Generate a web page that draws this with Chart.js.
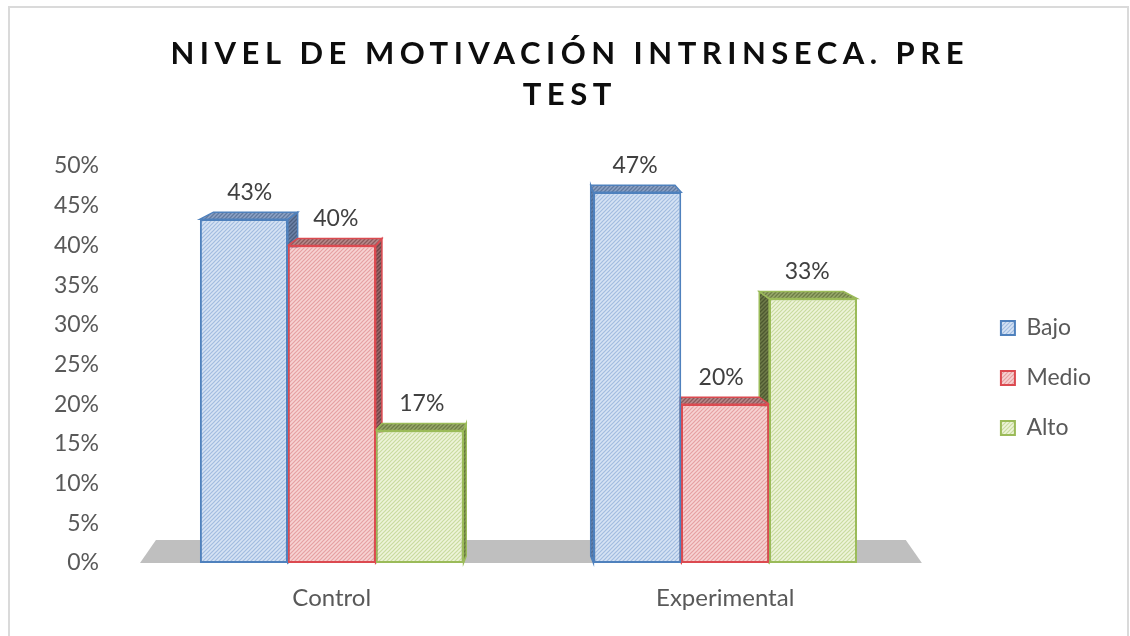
<!DOCTYPE html>
<html><head><meta charset="utf-8">
<script src="https://cdn.jsdelivr.net/npm/chart.js@4"></script>
<style>
html,body{margin:0;padding:0;background:#fff;}
#wrap{position:relative;width:1130px;height:636px;overflow:hidden;background:#fff;}
#frame{position:absolute;left:8px;top:6px;width:1121px;height:640px;border:2px solid #dadada;box-sizing:border-box;pointer-events:none;}
canvas{position:absolute;left:0;top:0;}
</style></head><body>
<div id="wrap"><canvas id="c" width="1130" height="636"></canvas><div id="frame"></div></div>
<script>
// ---- data ----
const titleLines = ['NIVEL DE MOTIVACIÓN INTRINSECA. PRE', 'TEST'];
const categories = ['Control', 'Experimental'];
const seriesNames = ['Bajo', 'Medio', 'Alto'];
const bajo = [43.3, 46.7];
const medio = [40.0, 20.0];
const alto = [16.7, 33.3];
const yTickValues = [0, 5, 10, 15, 20, 25, 30, 35, 40, 45, 50];

// ---- styles ----
const canvas = document.getElementById('c');
const ctx = canvas.getContext('2d');
function hatch(bg, line, size, lw) {
  const t = document.createElement('canvas');
  t.width = t.height = size;
  const x = t.getContext('2d');
  x.fillStyle = bg; x.fillRect(0, 0, size, size);
  x.strokeStyle = line; x.lineWidth = lw; x.beginPath();
  x.moveTo(-1, size + 1); x.lineTo(size + 1, -1);
  x.moveTo(-1, 1); x.lineTo(1, -1);
  x.moveTo(size - 1, size + 1); x.lineTo(size + 1, size - 1);
  x.stroke();
  return ctx.createPattern(t, 'repeat');
}
const borderColors = ['#4f81bd', '#dc4a50', '#9bbb59'];
const frontFills = [hatch('#d6e3f4', '#a2bce0', 4, 1.2), hatch('#f7d3d3', '#e6a0a2', 4, 1.2), hatch('#eef4da', '#c9db9f', 4, 1.2)];
const topFills = [hatch('#8ea3c6', '#60799f', 4, 1.3), hatch('#b88a8c', '#8a5a5c', 4, 1.3), hatch('#98a86c', '#6e7d45', 4, 1.3)];
const sideFills = [hatch('#6d83a8', '#4b5f80', 4, 1.3), hatch('#9a6a6c', '#6f4446', 4, 1.3), hatch('#6f7c4a', '#4d5830', 4, 1.3)];
const seriesData = [bajo, medio, alto];

const K = 0.041, DY = -7, FLOOR_DY = -23;
const TITLE_SPACING = 5.5, TITLE_CENTER = 567;

const spacedTitle = {
  id: 'spacedTitle',
  beforeDraw(chart) {
    const tb = chart.titleBlock;
    if (tb && !tb._spaced) {
      const orig = tb.draw.bind(tb);
      tb.draw = function () {
        const c = chart.ctx;
        c.save();
        c.letterSpacing = TITLE_SPACING + 'px';
        c.translate(TITLE_CENTER - (tb.left + tb.right) / 2 + TITLE_SPACING / 2, 0);
        orig();
        c.restore();
      };
      tb._spaced = true;
    }
  }
};

function poly(c, pts, fill, stroke) {
  c.beginPath();
  c.moveTo(pts[0][0], pts[0][1]);
  for (let i = 1; i < pts.length; i++) c.lineTo(pts[i][0], pts[i][1]);
  c.closePath();
  c.fillStyle = fill; c.fill();
  if (stroke) { c.strokeStyle = stroke; c.lineWidth = 1.5; c.stroke(); }
}

const bars3d = {
  id: 'bars3d',
  beforeDatasetsDraw(chart) {
    const c = chart.ctx, a = chart.chartArea;
    const vp = (a.left + a.right) / 2;
    const base = chart.scales.y.getPixelForValue(0);
    const fl = a.left + 5, fr = a.right;
    c.save();
    poly(c, [[fl, base], [fr, base], [fr + (vp - fr) * K, base + FLOOR_DY], [fl + (vp - fl) * K, base + FLOOR_DY]], '#bfbfbf');
    const items = [];
    chart.data.datasets.forEach((ds, i) => {
      chart.getDatasetMeta(i).data.forEach(el => items.push({ el, i }));
    });
    items.sort((p, q) => Math.abs(q.el.x - vp) - Math.abs(p.el.x - vp));
    items.forEach(({ el, i }) => {
      const L = el.x - el.width / 2, R = el.x + el.width / 2, y = el.y, b = el.base;
      const dL = (vp - L) * K, dR = (vp - R) * K;
      if (dR > 0) poly(c, [[R, y], [R + dR, y + DY], [R + dR, b + DY], [R, b]], sideFills[i], borderColors[i]);
      if (dL < 0) poly(c, [[L, y], [L + dL, y + DY], [L + dL, b + DY], [L, b]], sideFills[i], borderColors[i]);
      poly(c, [[L, y], [R, y], [R + dR, y + DY], [L + dL, y + DY]], topFills[i], borderColors[i]);
    });
    c.restore();
  },
  afterDatasetsDraw(chart) {
    const c = chart.ctx, a = chart.chartArea;
    const vp = (a.left + a.right) / 2;
    c.save();
    c.font = '23px Lato';
    c.fillStyle = '#404040';
    c.textAlign = 'center';
    c.textBaseline = 'middle';
    chart.data.datasets.forEach((ds, i) => {
      chart.getDatasetMeta(i).data.forEach((el, j) => {
        const x = el.x + (vp - el.x) * K / 2;
        c.fillText(Math.round(ds.data[j]) + '%', x, el.y - 27);
      });
    });
    c.restore();
  }
};

const tickFont = { family: 'Lato', size: 23 };
new Chart(ctx, {
  type: 'bar',
  data: {
    labels: categories,
    datasets: seriesNames.map((n, i) => ({
      label: n,
      data: seriesData[i],
      backgroundColor: frontFills[i],
      borderColor: borderColors[i],
      borderWidth: 2,
      borderSkipped: false
    }))
  },
  options: {
    responsive: false,
    animation: false,
    layout: { padding: { left: 0, right: 29, top: 0, bottom: 0 } },
    datasets: { bar: { categoryPercentage: 0.67, barPercentage: 1 } },
    scales: {
      x: {
        grid: { display: false, drawTicks: false },
        border: { display: false },
        ticks: { font: { family: 'Lato', size: 24 }, color: '#595959', padding: 21 },
        afterFit(s) { s.height = 73; }
      },
      y: {
        min: 0, max: 50,
        afterBuildTicks(s) { s.ticks = yTickValues.map(v => ({ value: v })); },
        ticks: { callback: v => v + '%', padding: 36, font: tickFont, color: '#595959' },
        grid: { display: false, drawTicks: false },
        border: { display: false },
        afterFit(s) { s.width = 135; }
      },
      yR: {
        position: 'right',
        grid: { display: false, drawTicks: false },
        border: { display: false },
        ticks: { display: false },
        afterFit(s) { s.width = 52; }
      }
    },
    plugins: {
      title: {
        display: true,
        text: titleLines,
        color: '#0d0d0d',
        font: { family: 'Lato', size: 31, weight: 'bold', lineHeight: 41 / 31 },
        padding: { top: 33, bottom: 51 }
      },
      legend: {
        position: 'right',
        title: { display: true, text: ' ', font: { size: 20, lineHeight: 1 }, padding: { top: 100, bottom: 0 } },
        labels: { boxWidth: 14, boxHeight: 14, padding: 27, font: tickFont, color: '#595959' }
      },
      tooltip: { enabled: false }
    }
  },
  plugins: [spacedTitle, bars3d]
});
</script>
</body></html>
